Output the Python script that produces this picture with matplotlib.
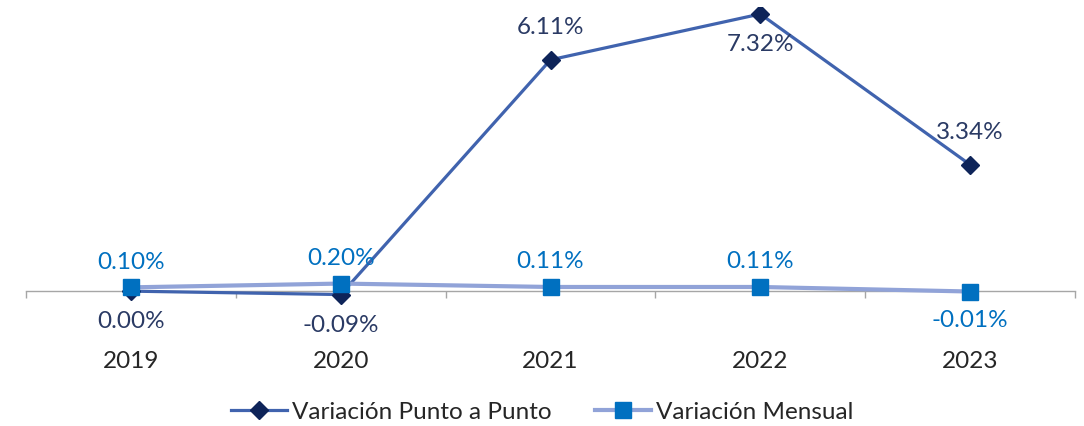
import numpy as np
import matplotlib
matplotlib.use("Agg")
import matplotlib.pyplot as plt
from matplotlib.ticker import FixedLocator, NullFormatter

# Data
years = ["2019", "2020", "2021", "2022", "2023"]
puntoAPunto = [0.00, -0.09, 6.11, 7.32, 3.34]
mensual = [0.10, 0.20, 0.11, 0.11, -0.01]
puntoLabels = ["0.00%", "-0.09%", "6.11%", "7.32%", "3.34%"]
mensualLabels = ["0.10%", "0.20%", "0.11%", "0.11%", "-0.01%"]

# Label placement (above / below the marker)
puntoPlace = ["below", "below", "above", "below", "above"]
mensualPlace = ["above", "above", "above", "above", "below"]

plt.rcParams['font.family'] = ['Lato', 'DejaVu Sans']

lineDark = '#4063AE'
markerDark = '#0E2459'
textDark = '#2A3A64'
lineLight = '#91A3D8'
markerLight = '#0070C0'
fsize = 17.5

fig = plt.figure(figsize=(10.84, 4.26), dpi=100)
# place axes so that categories span 26..1075 px and 0 sits at 291 px
ax = fig.add_axes([26/1084, (426-329)/426, (1075-26)/1084, (329-7.2)/426])
x = np.arange(len(years))

ax.plot(x, puntoAPunto, color=lineDark, lw=2.3, marker='D', ms=9.5,
        mfc=markerDark, mec=markerDark, label='Variación Punto a Punto', zorder=3)
ax.plot(x, mensual, color=lineLight, lw=3.0, marker='s', ms=11,
        mfc=markerLight, mec=markerLight, label='Variación Mensual', zorder=4)

def addLabels(vals, texts, places, color, up, down):
	for xi, v, t, p in zip(x, vals, texts, places):
		off = up if p == 'above' else -down
		ax.annotate(t, (xi, v), xytext=(0, off), textcoords='offset points',
		            ha='center', va='center', fontsize=fsize, color=color)

addLabels(puntoAPunto, puntoLabels, puntoPlace, textDark, 23, 22)
addLabels(mensual, mensualLabels, mensualPlace, markerLight, 18, 21)

ax.set_xlim(-0.5, len(years) - 0.5)
ax.set_ylim(-1, 7.5)

for s in ['top', 'right', 'left']:
	ax.spines[s].set_visible(False)
ax.spines['bottom'].set_position(('data', 0))
ax.spines['bottom'].set_color('#A6A6A6')
ax.spines['bottom'].set_linewidth(1.0)
ax.set_yticks([])

# boundary ticks (major) and year labels (minor)
ax.xaxis.set_major_locator(FixedLocator(np.arange(-0.5, len(years), 1.0)))
ax.xaxis.set_major_formatter(NullFormatter())
ax.xaxis.set_minor_locator(FixedLocator(x))
ax.set_xticklabels(years, minor=True)
ax.tick_params(axis='x', which='major', direction='out', length=5, width=1.0, color='#A6A6A6')
ax.tick_params(axis='x', which='minor', length=0, pad=43, labelsize=fsize, labelcolor='#262626')

leg = fig.legend(loc='center', bbox_to_anchor=(0.5, 1 - 412/426), ncol=2, frameon=False,
                 fontsize=fsize, handlelength=2.3, columnspacing=1.8, handletextpad=0.2)
for t in leg.get_texts():
	t.set_color('#262626')

fig.savefig('out.png', dpi=100)
